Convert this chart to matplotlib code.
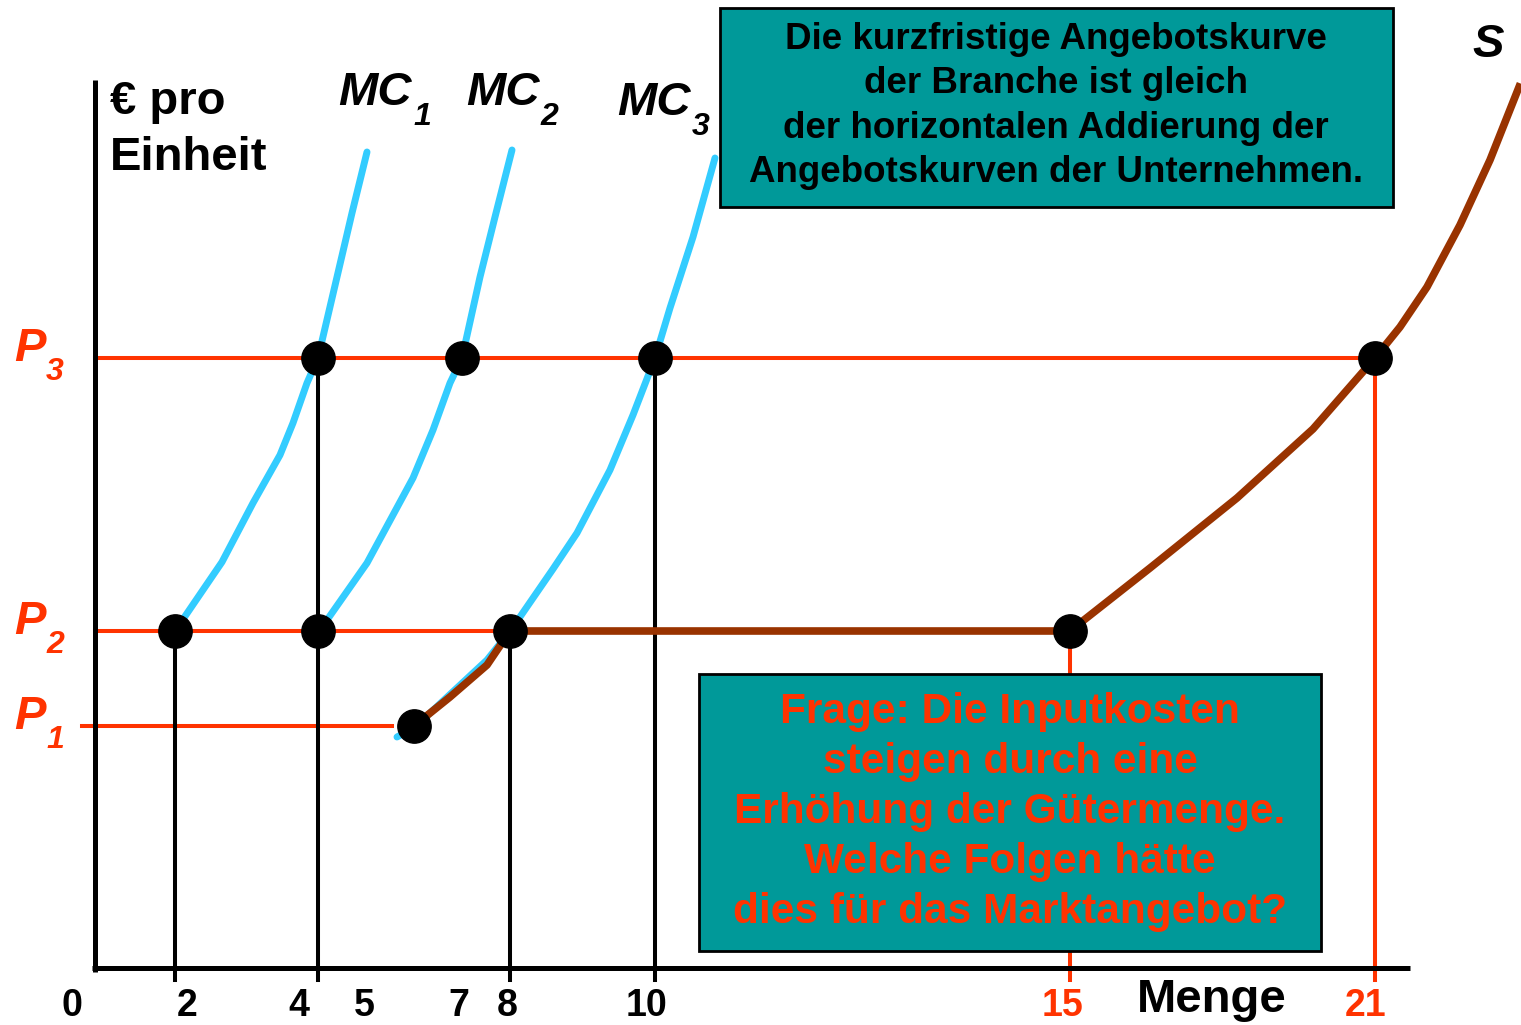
import matplotlib
matplotlib.use('Agg')
import matplotlib.pyplot as plt
from matplotlib.patches import Rectangle

plt.rcParams['font.family'] = ['Liberation Sans', 'DejaVu Sans']

# Diagrammeinheiten: Ursprung im Achsenkreuz, x nach rechts, y nach oben
# Preisniveaus P1, P2, P3
price_subs = ['1', '2', '3']
price_levels = [242, 337, 610]

# Mengen an der x-Achse (schematisch, nicht linear)
q_ticks = [2, 4, 8, 10, 15, 21]
q_pos = [80, 223, 415, 560, 975, 1280]
q_level = [337, 610, 337, 610, 337, 610]      # bis zu welchem Preis die Lotlinie geht
q_red = [False, False, False, False, True, True]

# Beschriftungen unter der Achse
q_labels = ['0', '2', '4', '5', '7', '8', '10', '15', '21']
q_label_x = [-23, 92, 204, 269, 364, 412, 552, 968, 1271]
q_label_red = [False, False, False, False, False, False, False, True, True]

# Grenzkostenkurven der Unternehmen
mc1_x = [80, 127, 158, 185, 198, 212, 223, 242, 257, 272]
mc1_y = [337, 406, 465, 513, 545, 585, 610, 691, 755, 816]
mc2_x = [225, 272, 318, 338, 355, 367, 385, 400, 417]
mc2_y = [338, 405, 490, 538, 585, 610, 691, 751, 818]
mc3_x = [302, 320, 392, 416, 458, 482, 515, 538, 560, 575, 598, 620]
mc3_y = [231, 241, 308, 338, 399, 435, 498, 553, 610, 660, 731, 810]

# Angebotskurve der Branche
s_x = [319, 355, 392, 415, 975, 1055, 1142, 1218, 1280, 1305, 1332, 1365, 1395, 1424]
s_y = [242, 271, 303, 337, 337, 400, 470, 539, 610, 641, 681, 743, 808, 881]

# Markierte Punkte
dots_x = [80, 223, 415, 975, 319, 223, 367, 560, 1280]
dots_y = [337, 337, 337, 337, 242, 610, 610, 610, 610]

RED = '#FF3300'
CYAN = '#33CCFF'
BROWN = '#993300'
TEAL = '#009999'

fig = plt.figure(figsize=(15.21, 10.25), dpi=100)
ax = fig.add_axes([0, 0, 1, 1])
ax.set_xlim(-95, 1426)
ax.set_ylim(-57, 968)
ax.axis('off')

# Preislinien
ax.plot([-13, 297], [price_levels[0]] * 2, color=RED, lw=2.9, zorder=2)
ax.plot([0, 415], [price_levels[1]] * 2, color=RED, lw=2.9, zorder=2)
ax.plot([0, 1280], [price_levels[2]] * 2, color=RED, lw=2.9, zorder=2)

# Lotlinien zu den Mengen
for x, lev, red in zip(q_pos, q_level, q_red):
    ax.plot([x, x], [-12, lev], color=RED if red else 'black', lw=2.9, zorder=2)

# Achsen
ax.plot([0, 0], [-4, 888], color='black', lw=3.6, zorder=3, solid_capstyle='butt')
ax.plot([-3, 1315], [0, 0], color='black', lw=3.6, zorder=3, solid_capstyle='butt')

# Kurven
for xs, ys in [(mc1_x, mc1_y), (mc2_x, mc2_y), (mc3_x, mc3_y)]:
    ax.plot(xs, ys, color=CYAN, lw=5, solid_capstyle='round', zorder=4)
ax.plot(s_x, s_y, color=BROWN, lw=5.5, solid_joinstyle='round', zorder=5)

ax.plot(dots_x, dots_y, 'o', color='black', markersize=24, zorder=6)

# Textkästen
ax.add_patch(Rectangle((625, 761), 673, 199, facecolor=TEAL, edgecolor='black',
                       lw=2, zorder=7))
ax.text(961, 862, 'Die kurzfristige Angebotskurve\nder Branche ist gleich\n'
        'der horizontalen Addierung der\nAngebotskurven der Unternehmen.',
        ha='center', va='center', fontsize=26.5, fontweight='bold',
        linespacing=1.34, color='black', zorder=8)

ax.add_patch(Rectangle((604, 17), 622, 277, facecolor=TEAL, edgecolor='black',
                       lw=2, zorder=7))
ax.text(915, 156, 'Frage: Die Inputkosten\nsteigen durch eine\n'
        'Erhöhung der Gütermenge.\nWelche Folgen hätte\n'
        'dies für das Marktangebot?',
        ha='center', va='center', fontsize=30.5, fontweight='bold',
        linespacing=1.33, color=RED, zorder=8)

# Achsenbeschriftung
ax.text(15, 838, '€ pro\nEinheit', ha='left', va='center', fontsize=34,
        fontweight='bold', linespacing=1.37)
ax.text(1117, -32, 'Menge', ha='center', va='center', fontsize=34,
        fontweight='bold')

for lab, x, red in zip(q_labels, q_label_x, q_label_red):
    ax.text(x, -38, lab, ha='center', va='center', fontsize=27,
            fontweight='bold', color=RED if red else 'black')

# Preisbeschriftung
for sub, lev in zip(price_subs, price_levels):
    ax.text(-81, lev + 9, 'P', ha='left', va='center', fontsize=34,
            fontweight='bold', style='italic', color=RED)
    ax.text(-49, lev - 14, sub, ha='left', va='center', fontsize=23,
            fontweight='bold', style='italic', color=RED)

# Kurvennamen
for name, sub, x, y in [('MC', '1', 243, 875), ('MC', '2', 371, 875), ('MC', '3', 522, 865)]:
    ax.text(x, y, name, ha='left', va='center', fontsize=34,
            fontweight='bold', style='italic')
    ax.text(x + 75, y - 24, sub, ha='left', va='center', fontsize=23,
            fontweight='bold', style='italic')
ax.text(1393, 923, 'S', ha='center', va='center', fontsize=34,
        fontweight='bold', style='italic')

fig.savefig('out.png', dpi=100)
